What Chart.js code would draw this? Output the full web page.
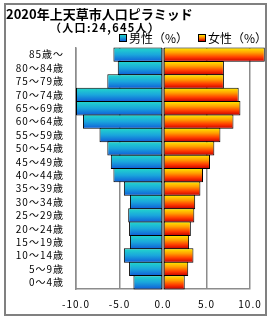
<!DOCTYPE html>
<html>
<head>
<meta charset="utf-8">
<script src="https://cdn.jsdelivr.net/npm/chart.js@4/dist/chart.umd.min.js"></script>
<style>
  html, body { margin:0; padding:0; background:#fff; }
  #wrap { position:relative; width:270px; height:320px; overflow:hidden; font-family:"Noto Sans CJK JP", sans-serif; }
  #c { position:absolute; left:0; top:0; }
  .frame { position:absolute; left:4px; top:3px; width:263px; height:313px; box-sizing:border-box; border:2px solid #808080; pointer-events:none; }
  .title { position:absolute; left:6px; top:6px; font-size:13px; font-weight:bold; color:#000; line-height:16px; white-space:nowrap; }
  .sub { position:absolute; left:50px; top:20px; font-size:11px; font-weight:bold; color:#000; line-height:14px; white-space:nowrap; letter-spacing:1.3px; }
  .leg { position:absolute; top:30px; font-size:12px; color:#000; line-height:15px; white-space:nowrap; }
  .leg i { display:inline-block; width:6px; height:6px; border:1px solid #000; margin-right:2px; vertical-align:1px; }
  .m i { background:linear-gradient(#22d6cc, #0f5fd8); }
  .f i { background:linear-gradient(#ffe800, #ff7a00, #d00000); }
</style>
</head>
<body>
<div id="wrap">
  <canvas id="c" width="270" height="320"></canvas>
  <div class="frame"></div>
  <div class="title">2020年上天草市人口ピラミッド</div>
  <div class="sub">（人口:24,645人）</div>
  <div class="leg m" style="left:119px"><i></i>男性（%）</div>
  <div class="leg f" style="left:198px"><i></i>女性（%）</div>
</div>
<script>
const ageLabels = ["85歳〜","80〜84歳","75〜79歳","70〜74歳","65〜69歳","60〜64歳","55〜59歳","50〜54歳","45〜49歳","40〜44歳","35〜39歳","30〜34歳","25〜29歳","20〜24歳","15〜19歳","10〜14歳","5〜9歳","0〜4歳"];
const male   = [5.7, 5.2, 6.4, 10.0, 10.0, 9.2, 7.3, 6.4, 6.0, 5.7, 4.5, 3.8, 4.0, 3.9, 3.8, 4.5, 3.9, 3.4];
const female = [11.7, 7.0, 7.0, 8.7, 8.9, 8.1, 6.6, 5.9, 5.4, 4.6, 4.3, 3.7, 3.6, 3.2, 3.0, 3.5, 2.9, 2.5];
const xTicks = [-10, -5, 0, 5, 10];

const maleStops = [[0, "#22d6cc"], [0.5, "#1aa6dc"], [1, "#0f5fd8"]];
const femaleStops = [[0, "#ffe800"], [0.35, "#ffa000"], [0.7, "#ff3a00"], [1, "#c80000"]];

function barGradient(stops, fallback) {
  return (ctx) => {
    const chart = ctx.chart;
    if (!chart.chartArea || ctx.dataIndex === undefined) return fallback;
    const y = chart.scales.y;
    const c = y.getPixelForValue(ctx.dataIndex);
    const h = Math.abs(y.getPixelForValue(1) - y.getPixelForValue(0)) / 2;
    const g = chart.ctx.createLinearGradient(0, c - h, 0, c + h);
    stops.forEach(([p, col]) => g.addColorStop(p, col));
    return g;
  };
}

// 目盛りの文字を少し広げる
const spacing = {
  id: "spacing",
  beforeDraw(chart) { chart.ctx.letterSpacing = "1px"; },
  afterDraw(chart) { chart.ctx.letterSpacing = "0px"; }
};

// 0軸の線は棒の上に描く
const zeroLine = {
  id: "zeroLine",
  afterDatasetsDraw(chart) {
    const { ctx, chartArea, scales } = chart;
    const x = scales.x.getPixelForValue(0);
    ctx.save();
    ctx.strokeStyle = "#8c8c8c";
    ctx.lineWidth = 2;
    ctx.beginPath();
    ctx.moveTo(x, chartArea.top);
    ctx.lineTo(x, chartArea.bottom);
    ctx.stroke();
    ctx.restore();
  }
};

new Chart(document.getElementById("c"), {
  type: "bar",
  data: {
    labels: ageLabels,
    datasets: [
      { label: "男性（%）", data: male.map(v => -v), backgroundColor: barGradient(maleStops, "#1aa6dc"),
        borderColor: "#000", borderWidth: 1, borderSkipped: false, barPercentage: 1.07, categoryPercentage: 1, clip: false },
      { label: "女性（%）", data: female, backgroundColor: barGradient(femaleStops, "#ff7a00"),
        borderColor: "#000", borderWidth: 1, borderSkipped: false, barPercentage: 1.07, categoryPercentage: 1, clip: false }
    ]
  },
  options: {
    indexAxis: "y",
    responsive: false,
    animation: false,
    layout: { padding: { top: 48, right: 20, bottom: 0, left: 0 } },
    plugins: { legend: { display: false }, tooltip: { enabled: false }, title: { display: false } },
    scales: {
      x: {
        stacked: true, min: -10, max: 10,
        afterBuildTicks: (s) => { s.ticks = xTicks.map(v => ({ value: v })); },
        afterFit: (s) => { s.height = 31; },
        grid: { color: "#8c8c8c", lineWidth: 1.5, drawTicks: false },
        border: { color: "#8c8c8c", width: 1.5 },
        ticks: { padding: 9, color: "#000", font: { family: "Noto Sans CJK JP", size: 10 }, callback: (v) => Number(v).toFixed(1) }
      },
      y: {
        stacked: true,
        afterFit: (s) => { s.width = 76; },
        grid: { display: false, drawTicks: false },
        border: { color: "#8c8c8c", width: 1.5 },
        ticks: { padding: 12, color: "#000", autoSkip: false, font: { family: "Noto Sans CJK JP", size: 10 } }
      }
    }
  },
  plugins: [spacing, zeroLine]
});
</script>
</body>
</html>
